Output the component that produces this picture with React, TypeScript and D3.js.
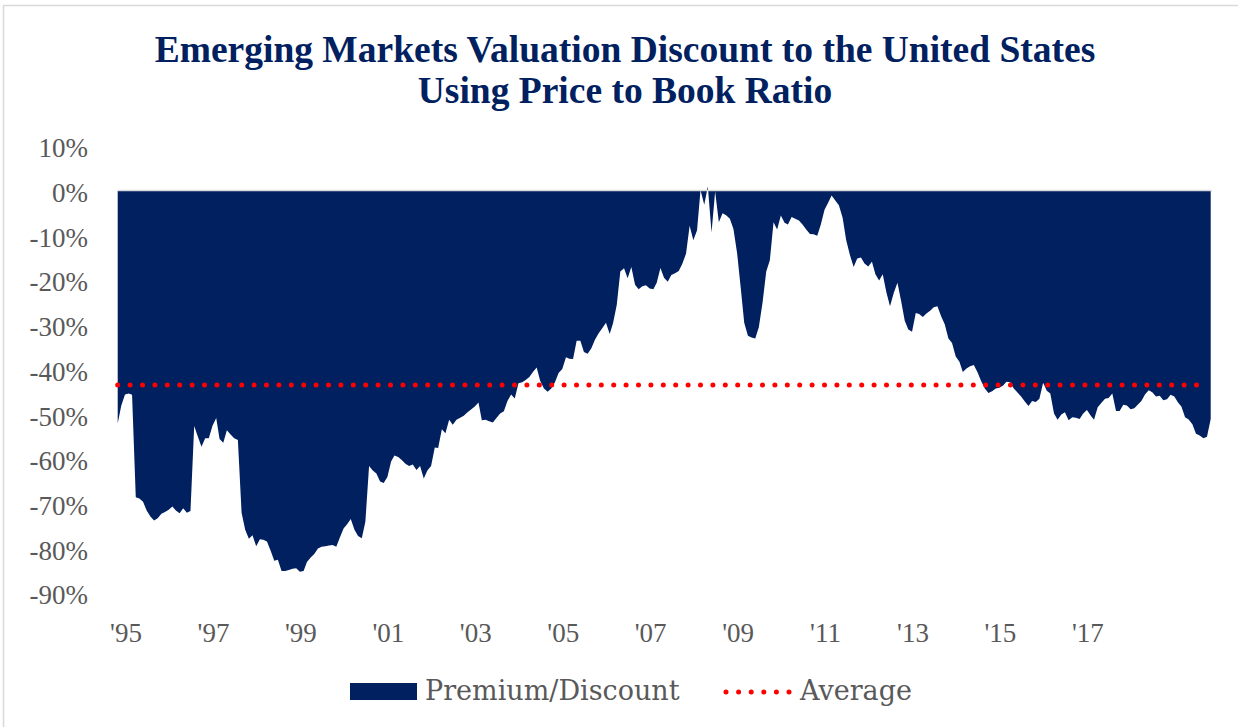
import React from "react";
import * as d3 from "d3";

// Monthly premium/discount (%) of EM P/B vs US, starting Nov 1994
const START_YEAR = 1994;
const START_MONTH = 10; // November (0-based)
const premiumDiscount: number[] = [
  -52, -48,
  -45.5, -45.3, -45.6, -68.5, -68.8, -69.5, -71.5, -72.8, -73.7, -73.2, -72.2, -71.8,
  -71.3, -70.6, -71.5, -72.1, -71.0, -72.0, -71.6, -52.6, -55, -57.2, -55.3, -55.3,
  -52.5, -50.8, -55.5, -56.3, -53.5, -54.5, -55.3, -55.7, -72, -75.8, -77.8, -77,
  -79.5, -77.9, -78.0, -78.4, -80.4, -82.7, -82.5, -85, -85, -84.8, -84.5, -84.4,
  -85.2, -85.0, -83, -82, -81.2, -80, -79.6, -79.5, -79.3, -79.2, -79.6, -77.5,
  -75.5, -74.5, -73.4, -75.8, -77.2, -77.7, -74, -61.5, -62.5, -63.2, -65, -65.3,
  -64, -60.5, -59.2, -59.5, -60.2, -61, -61.5, -61.2, -62.4, -61.5, -64.3, -62.5,
  -61.5, -57.4, -57.5, -53.3, -54.2, -51.2, -52.3, -51.2, -50.7, -50.3, -49.5, -48.9,
  -48.2, -47.3, -51.3, -51.2, -51.5, -51.8, -50.8, -49.8, -49.3, -47, -45.5, -46.4,
  -43, -42.8, -42.3, -41.6, -40.5, -39.5, -42.5, -44.2, -44.9, -44.2, -42.8, -40.7,
  -39.8, -37.2, -37.5, -37.6, -33.5, -33.5, -36, -36.4, -35.2, -33.3, -31.8, -30.7,
  -29.5, -32, -29.6, -25.5, -18, -17.3, -19.5, -17, -21, -22, -21.3, -21.1,
  -21.8, -22, -20.5, -17.2, -19.4, -20.3, -18.8, -18.4, -17.9, -16.3, -14, -7.8,
  -11, -8.8, 0.2, -3.1, 1.0, -9.3, -0.1, -7.0, -5, -5.4, -6.2, -8.5,
  -14, -22, -29.5, -32.4, -32.8, -33, -30.5, -25, -18, -15.5, -7, -8.6,
  -5.5, -7.1, -7.5, -5.8, -6.2, -6.6, -7.5, -8.6, -9.6, -9.7, -10, -7.5,
  -4.2, -2.6, -1, -2.1, -3.2, -6, -11, -14.3, -17, -15.1, -14.9, -16.2,
  -16.9, -15.8, -18.6, -20, -18.6, -22.7, -25.8, -22.8, -20.5, -24.5, -29, -31,
  -31.5, -27.3, -27.5, -28.2, -27.4, -26.8, -26, -25.8, -28, -29.8, -33, -34,
  -37, -38.2, -40.5, -39.7, -39.2, -38.9, -40.5, -42.5, -44.2, -45.2, -44.8, -44.2,
  -44, -43.5, -42.7, -42.8, -44.2, -45.1, -46, -47.1, -48.1, -47, -47.2, -46.5,
  -42.9, -44.7, -45.3, -49.8, -51.2, -50, -49.5, -51.3, -50.6, -50.7, -51, -49.8,
  -49, -50.2, -51.2, -48.4, -47.4, -46.5, -46.3, -45.3, -49.2, -49.2, -47.8, -48,
  -48.8, -48.6, -47.8, -47, -45.5, -44.6, -45, -46, -45.8, -46.8, -46.6, -45.6,
  -46, -47.3, -48.2, -50.6, -51.1, -52.2, -54.3, -54.7, -55.3, -55, -51,
];
const AVERAGE = -43.4;

const yTicks: number[] = [10, 0, -10, -20, -30, -40, -50, -60, -70, -80, -90];
const xTickYears: number[] = [1995, 1997, 1999, 2001, 2003, 2005, 2007, 2009, 2011, 2013, 2015, 2017];
const xTickLabels: string[] = ["'95", "'97", "'99", "'01", "'03", "'05", "'07", "'09", "'11", "'13", "'15", "'17"];

const titleLines: string[] = [
  "Emerging Markets Valuation Discount to the United States",
  "Using Price to Book Ratio",
];
const legendLabels = { area: "Premium/Discount", avg: "Average" };

const NAVY = "#002060";
const GRAY_TEXT = "#595959";

export default function App() {
  const width = 1238;
  const height = 727;
  const data = premiumDiscount.map((v, i) => ({
    date: new Date(START_YEAR, START_MONTH + i, 1),
    v,
  }));
  const x = d3
    .scaleTime()
    .domain([data[0].date, data[data.length - 1].date])
    .range([117.7, 1210.7]);
  const y = d3.scaleLinear().domain([-90, 10]).range([593.3, 146.3]);

  const area = d3
    .area<{ date: Date; v: number }>()
    .x((d) => x(d.date))
    .y0(y(0))
    .y1((d) => y(d.v));

  const x0 = x(data[0].date);
  const x1 = x(data[data.length - 1].date);
  const serif = "'Palatino Linotype', 'Book Antiqua', Palatino, 'Liberation Serif', serif";
  const serifWide = "'Palatino Linotype', 'Book Antiqua', Palatino, 'DejaVu Serif', serif";

  return (
    <div style={{ position: "fixed", left: 0, top: 0 }}>
      <svg width={width} height={height} style={{ display: "block", background: "#fff" }}>
        <rect x={3.5} y={5.5} width={1240} height={730} fill="#fff" stroke="#d9d9d9" strokeWidth={1.5} />
        <g fontFamily={serif} fontWeight="bold" fill={NAVY} textAnchor="middle">
          <text x={625} y={62} fontSize={37.5}>{titleLines[0]}</text>
          <text x={625} y={103} fontSize={37.5}>{titleLines[1]}</text>
        </g>
        <path d={area(data) || ""} fill={NAVY} />
        <line x1={x0} x2={x1 + 1} y1={y(0) - 0.5} y2={y(0) - 0.5} stroke="#d9d9d9" strokeWidth={1.5} />
        <line
          x1={x0}
          x2={x1 - 6}
          y1={y(AVERAGE)}
          y2={y(AVERAGE)}
          stroke="#ff0000"
          strokeWidth={5}
          strokeLinecap="round"
          strokeDasharray="0 12.4"
        />
        <g fontFamily={serif} fontSize={27} fill={GRAY_TEXT}>
          {yTicks.map((t) => (
            <text key={t} x={88} y={y(t) + 11} textAnchor="end">
              {`${t}%`}
            </text>
          ))}
          {xTickYears.map((yr, i) => (
            <text key={yr} x={x(new Date(yr, 0, 1)) + 1} y={642} textAnchor="middle">
              {xTickLabels[i]}
            </text>
          ))}
        </g>
        <g fontFamily={serifWide} fontSize={27} fill={GRAY_TEXT}>
          <rect x={350} y={683} width={67} height={17} fill={NAVY} />
          <text x={425} y={700}>{legendLabels.area}</text>
          <line
            x1={726}
            x2={790}
            y1={692}
            y2={692}
            stroke="#ff0000"
            strokeWidth={5}
            strokeLinecap="round"
            strokeDasharray="0 12.6"
          />
          <text x={800} y={700}>{legendLabels.avg}</text>
        </g>
      </svg>
    </div>
  );
}
